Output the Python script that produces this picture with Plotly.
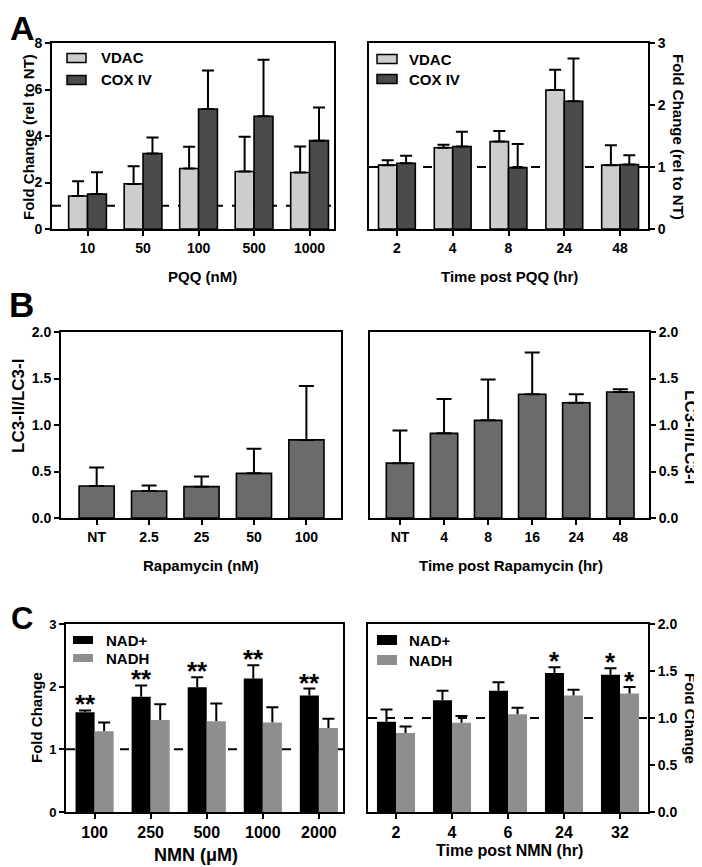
import plotly.graph_objects as go

FONT = "Liberation Sans, Arial, Helvetica, sans-serif"
W, H = 702, 867
OFF = 8  # page offset of the figure inside the browser window

# ---------------- Data ----------------
# Panel A (left): PQQ dose
pqq_dose = ["10", "50", "100", "500", "1000"]
vdac_dose = [1.42, 1.94, 2.60, 2.47, 2.43]
vdac_dose_sd = [0.63, 0.76, 0.94, 1.50, 1.12]
cox_dose = [1.50, 3.25, 5.16, 4.85, 3.80]
cox_dose_sd = [0.94, 0.69, 1.66, 2.43, 1.43]

# Panel A (right): PQQ time
pqq_time = ["2", "4", "8", "24", "48"]
vdac_time = [1.03, 1.31, 1.41, 2.24, 1.03]
vdac_time_sd = [0.08, 0.05, 0.17, 0.33, 0.32]
cox_time = [1.06, 1.33, 0.99, 2.06, 1.04]
cox_time_sd = [0.12, 0.24, 0.38, 0.69, 0.15]

# Panel B (left): Rapamycin dose
rapa_dose = ["NT", "2.5", "25", "50", "100"]
lc3_dose = [0.344, 0.29, 0.337, 0.48, 0.84]
lc3_dose_sd = [0.20, 0.06, 0.11, 0.265, 0.58]

# Panel B (right): Rapamycin time
rapa_time = ["NT", "4", "8", "16", "24", "48"]
lc3_time = [0.59, 0.91, 1.05, 1.33, 1.24, 1.355]
lc3_time_sd = [0.35, 0.37, 0.44, 0.45, 0.09, 0.03]

# Panel C (left): NMN dose
nmn_dose = ["100", "250", "500", "1000", "2000"]
nad_dose = [1.59, 1.84, 1.99, 2.13, 1.86]
nad_dose_sd = [0.03, 0.18, 0.16, 0.21, 0.11]
nadh_dose = [1.29, 1.47, 1.45, 1.43, 1.34]
nadh_dose_sd = [0.14, 0.25, 0.28, 0.24, 0.15]
nad_dose_sig = ["**", "**", "**", "**", "**"]
nadh_dose_sig = ["", "", "", "", ""]

# Panel C (right): NMN time
nmn_time = ["2", "4", "6", "24", "32"]
nad_time = [0.96, 1.19, 1.29, 1.48, 1.46]
nad_time_sd = [0.13, 0.10, 0.09, 0.06, 0.07]
nadh_time = [0.84, 0.95, 1.04, 1.24, 1.26]
nadh_time_sd = [0.07, 0.07, 0.07, 0.06, 0.07]
nad_time_sig = ["", "", "", "*", "*"]
nadh_time_sig = ["", "", "", "", "*"]

# ---------------- Styles ----------------
C_VDAC = "#cdcdcd"
C_COX = "#4b4b4b"
C_LC3 = "#6b6b6b"
C_NAD = "#000000"
C_NADH = "#8e8e8e"


def px(x):
    return (x - OFF) / W


def py(y):
    return 1 - (y - OFF) / H


fig = go.Figure()


def bar(x, y, sd, color, xa, ya, name=None, width=0.34, offset=None, cap=6):
    fig.add_trace(go.Bar(
        x=x, y=y, name=name, xaxis=xa, yaxis=ya,
        width=width, offset=offset,
        marker=dict(color=color, line=dict(color="black", width=1.6)),
        error_y=dict(type="data", symmetric=False, array=sd,
                     arrayminus=[0] * len(sd), color="black",
                     thickness=2, width=cap),
        showlegend=False,
    ))


def bar_nocap_base(x, y, sd, color, xa, ya, name, width, offset, cap=6):
    # bar with vertical error line only, plus an invisible overlay bar carrying the top cap
    fig.add_trace(go.Bar(
        x=x, y=y, name=name, xaxis=xa, yaxis=ya, width=width, offset=offset,
        marker=dict(color=color, line=dict(width=0)),
        error_y=dict(type="data", symmetric=False, array=sd,
                     arrayminus=[0] * len(sd), color="black", thickness=2, width=0),
        showlegend=False,
    ))
    fig.add_trace(go.Bar(
        x=x, y=sd, base=y, xaxis=xa, yaxis=ya, width=width, offset=offset,
        marker=dict(color="rgba(0,0,0,0)", line=dict(width=0)),
        error_y=dict(type="data", symmetric=False, array=[0] * len(sd),
                     arrayminus=[0] * len(sd), color="black", thickness=2, width=cap),
        showlegend=False, hoverinfo="skip",
    ))


w2 = 0.34
# A left
bar(pqq_dose, vdac_dose, vdac_dose_sd, C_VDAC, "x", "y", "VDAC", w2, -w2)
bar(pqq_dose, cox_dose, cox_dose_sd, C_COX, "x", "y", "COX IV", w2, 0)
# A right
bar(pqq_time, vdac_time, vdac_time_sd, C_VDAC, "x2", "y2", "VDAC", 0.33, -0.33)
bar(pqq_time, cox_time, cox_time_sd, C_COX, "x2", "y2", "COX IV", 0.33, 0)
# B left
bar(rapa_dose, lc3_dose, lc3_dose_sd, C_LC3, "x3", "y3", "LC3-II/LC3-I", 0.67, -0.335, cap=7.5)
# B right
bar(rapa_time, lc3_time, lc3_time_sd, C_LC3, "x4", "y4", "LC3-II/LC3-I", 0.62, -0.31, cap=7.5)
# C left
bar_nocap_base(nmn_dose, nad_dose, nad_dose_sd, C_NAD, "x5", "y5", "NAD+", w2, -w2)
bar_nocap_base(nmn_dose, nadh_dose, nadh_dose_sd, C_NADH, "x5", "y5", "NADH", w2, 0)
# C right
bar_nocap_base(nmn_time, nad_time, nad_time_sd, C_NAD, "x6", "y6", "NAD+", w2, -w2)
bar_nocap_base(nmn_time, nadh_time, nadh_time_sd, C_NADH, "x6", "y6", "NADH", w2, 0)

# ---------------- Axes ----------------
axis_common = dict(showline=True, linecolor="black", linewidth=2, mirror=True,
                   ticks="outside", ticklen=5, tickwidth=2, tickcolor="black",
                   showgrid=False, zeroline=False, fixedrange=True, automargin=False)


def xa(dom, yanchor, rng, fsize=14):
    return dict(axis_common, domain=dom, anchor=yanchor, type="category", range=rng,
                tickfont=dict(family=FONT, size=fsize, color="black", weight="bold"))


def yax(dom, xanchor, rng, dtick, side="left", fmt=None, fsize=14):
    d = dict(axis_common, domain=dom, anchor=xanchor, range=rng, dtick=dtick, tick0=0,
             side=side,
             tickfont=dict(family=FONT, size=fsize, color="black", weight="bold"))
    if fmt:
        d["tickformat"] = fmt
    return d


yA = [py(229), py(43)]
yB = [py(518), py(332)]
yC = [py(812), py(624)]

fig.update_layout(
    template="none",
    xaxis=xa([px(52), px(334)], "y", [-0.64, 4.44]),
    yaxis=yax(yA, "x", [0, 8], 2),
    xaxis2=xa([px(369), px(648)], "y2", [-0.5, 4.5]),
    yaxis2=yax(yA, "x2", [0, 3], 1, side="right"),
    xaxis3=xa([px(61), px(341)], "y3", [-0.68, 4.66]),
    yaxis3=yax(yB, "x3", [0, 2], 0.5, fmt=".1f"),
    xaxis4=xa([px(370), px(649)], "y4", [-0.68, 5.65]),
    yaxis4=yax(yB, "x4", [0, 2], 0.5, side="right", fmt=".1f"),
    xaxis5=xa([px(66), px(343)], "y5", [-0.51, 4.43], fsize=16),
    yaxis5=yax(yC, "x5", [0, 3], 1, fsize=13),
    xaxis6=xa([px(368), px(648)], "y6", [-0.5, 4.5], fsize=16),
    yaxis6=yax(yC, "x6", [0, 2], 0.5, side="right", fmt=".1f"),
)

# ---------------- Reference lines at y = 1 ----------------
for xr, yr in [("x", "y"), ("x2", "y2"), ("x5", "y5"), ("x6", "y6")]:
    fig.add_shape(type="line", xref=f"{xr} domain", yref=yr, x0=0, x1=1, y0=1, y1=1,
                  line=dict(color="black", width=2, dash="dash"), layer="below")

# ---------------- Text annotations ----------------
ann = []


def text(t, x, y, size=15, angle=0, xanchor="center", yanchor="middle"):
    ann.append(dict(text=t, x=px(x), y=py(y), xref="paper", yref="paper",
                    showarrow=False, textangle=angle, xanchor=xanchor, yanchor=yanchor,
                    font=dict(family=FONT, size=size, color="black", weight="bold")))


# ---------------- Legends (swatch + label, per panel) ----------------
legend_names_A = ["VDAC", "COX IV"]
legend_colors_A = [C_VDAC, C_COX]
legend_names_C = ["NAD+", "NADH"]
legend_colors_C = [C_NAD, C_NADH]


def legend(names, colors, sw_x0, sw_x1, text_x, rows, half_h, outline):
    for nm, col, yc in zip(names, colors, rows):
        fig.add_shape(type="rect", xref="paper", yref="paper",
                      x0=px(sw_x0), x1=px(sw_x1), y0=py(yc + half_h), y1=py(yc - half_h),
                      fillcolor=col,
                      line=dict(color="black", width=1.5 if outline else 0))
        text(nm, text_x, yc, size=15, xanchor="left")


legend(legend_names_A, legend_colors_A, 67, 86, 99, [58, 80], 4.5, True)
legend(legend_names_A, legend_colors_A, 377, 397, 407, [59, 79], 4.5, True)
legend(legend_names_C, legend_colors_C, 73, 93, 104, [640, 658], 4, False)
legend(legend_names_C, legend_colors_C, 377, 397, 407, [640, 660], 5, False)

# panel letters
text("A", 22, 28, size=34)
text("B", 21, 305, size=35)
text("C", 22, 618, size=31)

# axis titles
text("Fold Change (rel to NT)", 28, 137, angle=-90)
text("PQQ (nM)", 202, 277)
text("Time post PQQ (hr)", 509, 277)
text("Fold Change (rel to NT)", 679, 137, angle=90)

text("LC3-II/LC3-I", 18, 406, size=17, angle=-90)
text("Rapamycin (nM)", 201, 565)
text("Time post Rapamycin (hr)", 511, 565)
text("LC3-II/LC3-I", 691, 437, size=17, angle=90)

text("Fold Change", 36, 718, angle=-90)
text("NMN (\u03bcM)", 196, 855, size=18)
text("Time post NMN (hr)", 509, 850, size=16)
text("Fold Change", 691, 718, angle=90)

fig.update_layout(annotations=ann)


# significance stars
def stars(vals, sds, marks, xref, yref, shift):
    for i, (v, s, m) in enumerate(zip(vals, sds, marks)):
        if m:
            fig.add_annotation(text=m, x=i + shift, y=v + s, xref=xref, yref=yref,
                               showarrow=False, xanchor="center", yanchor="bottom",
                               yshift=-11,
                               font=dict(family=FONT, size=26, color="black", weight="bold"))


stars(nad_dose, nad_dose_sd, nad_dose_sig, "x5", "y5", -w2 / 2)
stars(nadh_dose, nadh_dose_sd, nadh_dose_sig, "x5", "y5", w2 / 2)
stars(nad_time, nad_time_sd, nad_time_sig, "x6", "y6", -w2 / 2)
stars(nadh_time, nadh_time_sd, nadh_time_sig, "x6", "y6", w2 / 2)

fig.update_layout(
    width=W, height=H, barmode="overlay", showlegend=False,
    margin=dict(l=0, r=0, t=0, b=0, autoexpand=False),
    paper_bgcolor="white", plot_bgcolor="white",
    font=dict(family=FONT, size=14, color="black", weight="bold"),
)

fig.write_html("out.html")
